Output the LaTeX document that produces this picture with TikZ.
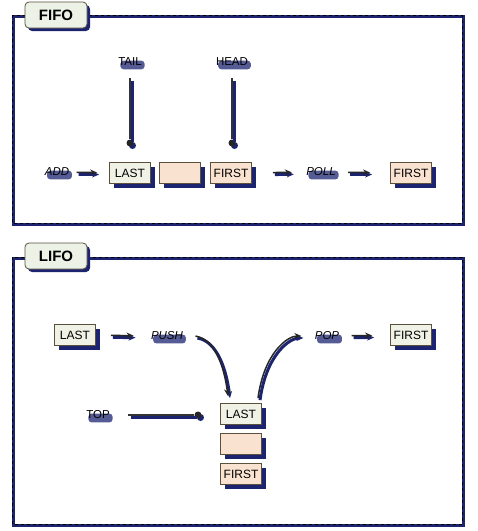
\documentclass[tikz,border=0pt]{standalone}
\usepackage{fontspec}
\setmainfont{Liberation Sans}
\usepackage{xcolor}
\usetikzlibrary{arrows.meta, positioning, shadows}

\definecolor{shade}{RGB}{28,36,112}
\definecolor{lastfill}{RGB}{240,242,230}
\definecolor{firstfill}{RGB}{250,226,208}
\definecolor{titlefill}{RGB}{236,242,230}
\definecolor{edge}{RGB}{90,80,60}

\begin{document}
\begin{tikzpicture}[
    x=1pt, y=-1pt,
    cell/.style={rectangle, draw=edge, line width=0.8pt, fill=lastfill, minimum width=41pt, minimum height=21pt, inner sep=0pt, font=\fontsize{12}{14}\selectfont, drop shadow={shadow xshift=4pt, shadow yshift=-4pt, fill=shade, opacity=1}},
    title/.style={rectangle, rounded corners=4pt, draw=edge, line width=0.8pt, fill=titlefill, minimum width=62pt, minimum height=26pt, font=\bfseries\fontsize{15}{17}\selectfont, drop shadow={shadow xshift=3pt, shadow yshift=-3pt, fill=shade, opacity=1}},
    tag/.style={inner sep=0.3pt, rounded corners=3pt, font=\fontsize{11.5}{12}\selectfont, drop shadow={shadow xshift=2.5pt, shadow yshift=-3pt, fill=shade, opacity=0.75}},
    op/.style={tag, font=\itshape\fontsize{11.5}{12}\selectfont},
    dotmark/.style={circle, fill=black!85, inner sep=0pt, minimum size=7pt, drop shadow={shadow xshift=2.5pt, shadow yshift=-2.5pt, fill=shade, opacity=1}},
    frame/.style={dashed, line width=0.9pt, preaction={draw=shade, solid, line width=3pt, transform canvas={shift={(1.5pt,-1.5pt)}}}},
    arrow/.style={-{Stealth[length=7pt, width=6pt]}, line width=1.5pt, black!85, preaction={draw=shade, line width=3pt, transform canvas={shift={(2pt,-2pt)}}}},
    pointer/.style={line width=2pt, black!80, preaction={draw=shade, line width=3.5pt, transform canvas={shift={(2.5pt,-2.5pt)}}}},
]
\useasboundingbox (0,0) rectangle (478,531);

% FIFO
\draw[frame] (12,15) rectangle (462,223);
\node[title] (fifo) at (56,15) {FIFO};

\node[tag] (tail) at (130,62) {TAIL};
\node[tag] (head) at (232,62) {HEAD};
\node[op] (add) at (57,172) {ADD};
\node[cell] (lastQ) at (130,173) {LAST};
\node[cell, fill=firstfill] (midQ) at (180,173) {};
\node[cell, fill=firstfill] (firstQ) at (231,173) {FIRST};
\node[op] (poll) at (321,172) {POLL};
\node[cell, fill=firstfill] (outQ) at (411,173) {FIRST};

\node[dotmark] (taildot) at (130,143) {};
\node[dotmark] (headdot) at (232,143) {};
\draw[pointer, shorten <=12pt] (tail) -- (taildot);
\draw[pointer, shorten <=12pt] (head) -- (headdot);

\draw[arrow, shorten <=7pt, shorten >=12pt] (add) -- (lastQ);
\draw[arrow, shorten <=21pt, shorten >=14pt] (firstQ) -- (poll);
\draw[arrow, shorten <=12pt, shorten >=20pt] (poll) -- (outQ);

% LIFO
\draw[frame] (12,257) rectangle (462,524);
\node[title] (lifo) at (56,256) {LIFO};

\node[cell] (lastS) at (75,335) {LAST};
\node[op] (push) at (167,336) {PUSH};
\node[op] (pop) at (327,336) {POP};
\node[cell] (firstS) at (411,335) {FIRST};
\node[cell] (top1) at (241,414) {LAST};
\node[cell, fill=firstfill] (top2) at (241,444) {};
\node[cell, fill=firstfill] (top3) at (241,474) {FIRST};
\node[tag] (top) at (98,415) {TOP};

\node[dotmark] (topdot) at (198,415) {};
\draw[pointer, shorten <=18pt] (top) -- (topdot);

\draw[arrow, shorten <=15pt, shorten >=17pt] (lastS) -- (push);
\draw[arrow] ([xshift=12pt]push.east) .. controls +(12,2) and +(-6,-45) .. ([xshift=-13pt, yshift=7pt]top1.north);
\draw[arrow] ([xshift=17pt, yshift=5pt]top1.north) .. controls +(6,-45) and +(-14,0) .. ([xshift=-13pt]pop.west);
\draw[arrow, shorten <=12pt, shorten >=18pt] (pop) -- (firstS);

\end{tikzpicture}
\end{document}
